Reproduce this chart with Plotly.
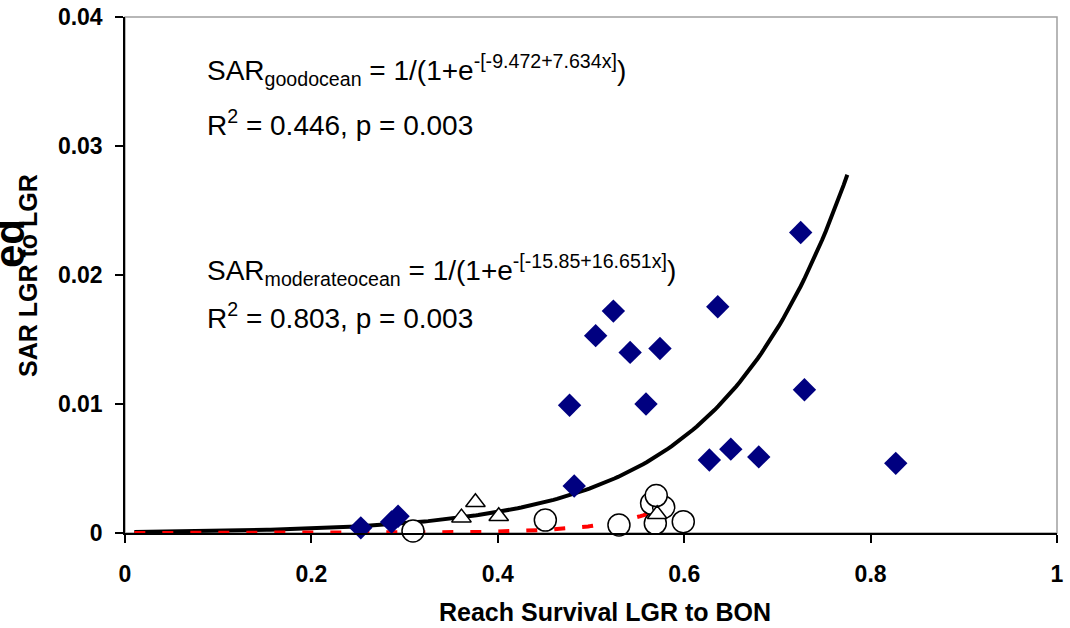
import numpy as np
import plotly.graph_objects as go

# Good ocean (diamonds)
good_x = [0.253, 0.286, 0.293, 0.482, 0.477, 0.505, 0.524, 0.542, 0.574, 0.559,
          0.636, 0.725, 0.729, 0.627, 0.650, 0.680, 0.827]
good_y = [0.0004, 0.00085, 0.0013, 0.00364, 0.0099, 0.0153, 0.0172, 0.0140, 0.0143, 0.0100,
          0.01754, 0.0233, 0.0111, 0.00566, 0.0065, 0.0059, 0.0054]

# Moderate ocean (triangles)
mod_x = [0.361, 0.376, 0.401, 0.571]
mod_y = [0.00119, 0.00238, 0.0013, 0.00145]

# Poor ocean (circles)
poor_x = [0.309, 0.451, 0.530, 0.599, 0.569, 0.565, 0.578, 0.570]
poor_y = [0.00016, 0.0010, 0.00062, 0.00088, 0.00075, 0.0023, 0.0020, 0.0029]

# Fitted logistic coefficients (from the chart annotations)
good_a, good_b = -9.472, 7.634
mod_a, mod_b = -15.85, 16.651
good_range = (0.01, 0.775)
mod_range = (0.01, 0.57)

x_ticks = [0, 0.2, 0.4, 0.6, 0.8, 1]
x_tick_labels = ["0", "0.2", "0.4", "0.6", "0.8", "1"]
y_ticks = [0, 0.01, 0.02, 0.03, 0.04]
y_tick_labels = ["0", "0.01", "0.02", "0.03", "0.04"]


def logistic(a, b, x):
    return 1.0 / (1.0 + np.exp(-(a + b * x)))


gx = np.linspace(good_range[0], good_range[1], 200)
mx = np.linspace(mod_range[0], mod_range[1], 200)

FONT = "Liberation Sans, Arial, sans-serif"

# plot area in pixels
L, R, T, B = 125, 1057, 17, 533
PW, PH = R - L, B - T


def px(xp):
    return (xp - L) / PW


def py(yp):
    return (B - yp) / PH


fig = go.Figure()
fig.add_trace(go.Scatter(x=gx, y=logistic(good_a, good_b, gx), mode="lines",
                         line=dict(color="black", width=4), showlegend=False,
                         cliponaxis=False, hoverinfo="skip"))
fig.add_trace(go.Scatter(x=mx, y=logistic(mod_a, mod_b, mx), mode="lines",
                         line=dict(color="#ff0000", width=4, dash="11px,17px"),
                         showlegend=False, cliponaxis=False, hoverinfo="skip"))
fig.add_trace(go.Scatter(x=good_x, y=good_y, mode="markers",
                         marker=dict(symbol="diamond", size=18, color="#000080",
                                     line=dict(width=0)),
                         showlegend=False, cliponaxis=False))
fig.add_trace(go.Scatter(x=poor_x, y=poor_y, mode="markers",
                         marker=dict(symbol="circle", size=22, color="white",
                                     line=dict(width=1.5, color="black")),
                         showlegend=False, cliponaxis=False))
fig.add_trace(go.Scatter(x=mod_x, y=mod_y, mode="markers",
                         marker=dict(symbol="triangle-up", size=17, color="white",
                                     line=dict(width=1.5, color="black")),
                         showlegend=False, cliponaxis=False))

ann_font = dict(family=FONT, size=28, color="black")
annotations = [
    dict(xref="paper", yref="paper", x=px(205), y=py(70),
         xanchor="left", yanchor="middle", showarrow=False, font=ann_font,
         text="SAR<sub>goodocean</sub> = 1/(1+e<sup>-[-9.472+7.634x]</sup>)"),
    dict(xref="paper", yref="paper", x=px(205), y=py(123),
         xanchor="left", yanchor="middle", showarrow=False, font=ann_font,
         text="R<sup>2</sup> = 0.446, p = 0.003"),
    dict(xref="paper", yref="paper", x=px(205), y=py(270),
         xanchor="left", yanchor="middle", showarrow=False, font=ann_font,
         text="SAR<sub>moderateocean</sub> = 1/(1+e<sup>-[-15.85+16.651x]</sup>)"),
    dict(xref="paper", yref="paper", x=px(205), y=py(316),
         xanchor="left", yanchor="middle", showarrow=False, font=ann_font,
         text="R<sup>2</sup> = 0.803, p = 0.003"),
    # axis titles
    dict(xref="paper", yref="paper", x=px(605), y=py(612),
         xanchor="center", yanchor="middle", showarrow=False,
         font=dict(family=FONT, size=25, color="black"),
         text="<b>Reach Survival LGR to BON</b>"),
    dict(xref="paper", yref="paper", x=px(28), y=py(276),
         xanchor="center", yanchor="middle", showarrow=False, textangle=-90,
         font=dict(family=FONT, size=25, color="black"),
         text="<b>SAR LGR to LGR</b>"),
    # clipped fragment of a larger overlapping label at the left edge
    dict(xref="paper", yref="paper", x=px(9), y=py(244),
         xanchor="center", yanchor="middle", showarrow=False, textangle=-90,
         font=dict(family=FONT, size=42, color="black"), text="<b>ed</b>"),
]

fig.update_layout(
    width=1070, height=628,
    margin=dict(l=L, r=1070 - R, t=T, b=628 - B, autoexpand=False),
    paper_bgcolor="white", plot_bgcolor="white",
    font=dict(family=FONT, size=18, color="black"),
    annotations=annotations,
    shapes=[dict(type="rect", xref="paper", yref="paper", x0=0, x1=1, y0=0, y1=1,
                 line=dict(color="#a0a0a0", width=1.5), layer="below")],
    xaxis=dict(range=[0, 1], tickvals=x_ticks, ticktext=x_tick_labels,
               showgrid=False, zeroline=False, showline=True, linecolor="black",
               linewidth=1.5, ticks="outside", ticklen=8, tickcolor="black",
               tickwidth=1.5, automargin=False, ticklabelstandoff=12,
               tickfont=dict(family=FONT, size=23, weight="bold")),
    yaxis=dict(range=[0, 0.04], tickvals=y_ticks, ticktext=y_tick_labels,
               showgrid=False, zeroline=False, showline=True, linecolor="black",
               linewidth=1.5, ticks="outside", ticklen=8, tickcolor="black",
               tickwidth=1.5, automargin=False, ticklabelstandoff=8,
               tickfont=dict(family=FONT, size=23, weight="bold")),
)

fig.write_html("out.html",
               config={"displayModeBar": False},
               post_script="document.body.style.margin='0';"
                           "document.body.style.overflow='hidden';")
